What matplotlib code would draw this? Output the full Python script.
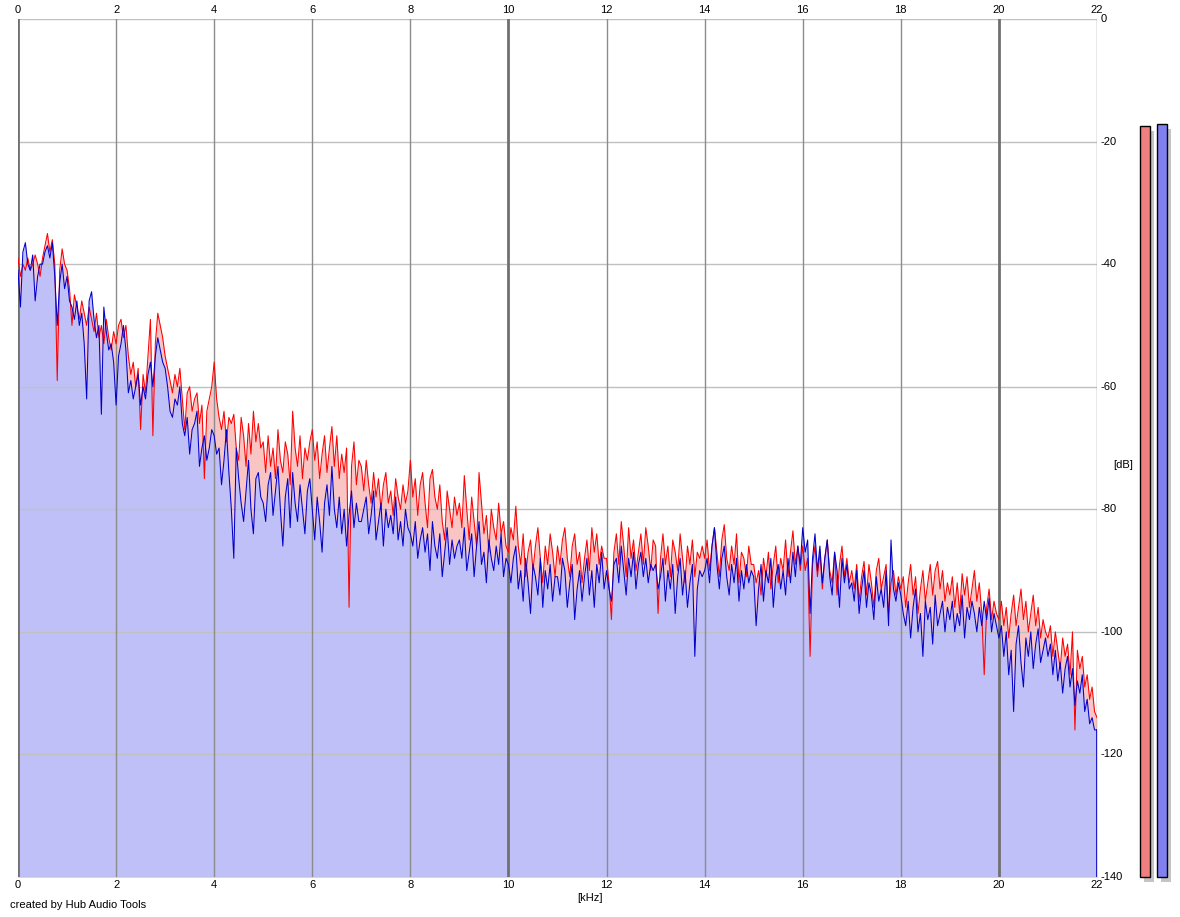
"""
Spectrum view, two channels (Hub Audio Tools style)
"""
import numpy as np
from matplotlib import pyplot as plt

# levels in dB, 0.05 kHz step from 0 to 22 kHz (one row per kHz)
red_db = [
    -39, -42, -40, -41, -39, -41, -40, -38.5, -40, -42, -39, -37, -35, -38, -36, -40, -59, -41, -37.5, -40,
    -41, -44, -50, -45, -47, -49, -46, -48, -50, -47, -49, -51, -48, -52, -50, -53, -49, -52, -54, -51,
    -53, -50, -49, -52, -50, -55, -58, -56, -60, -57, -67, -58, -61, -55, -49, -68, -53, -48, -50, -52,
    -55, -57, -59, -61, -58, -60, -57, -62, -67, -61, -60, -64, -62, -61, -66, -63, -75, -64, -62, -60,
    -56, -62, -65, -67, -64, -69, -65, -66, -64.5, -70, -72, -65, -68, -73, -66, -71, -64, -69, -66, -70,
    -69, -74, -68, -73, -70, -75, -67, -72, -74, -69, -71, -76, -64, -70, -73, -68, -75, -70, -72, -69,
    -67, -72, -69, -75, -71, -68, -74, -70, -66.5, -73, -68, -75, -71, -74, -70, -96, -73, -69, -76, -72,
    -73, -77, -72, -76, -79, -74, -78, -75, -80, -76, -74, -79, -77, -81, -75, -78, -80, -76, -79, -77,
    -72, -78, -75, -81, -76, -74, -79, -83, -75, -73.5, -78, -80, -76, -82, -85, -77, -80, -83, -78, -81,
    -79, -83, -74.5, -80, -85, -78, -82, -86, -74, -79, -84, -81, -87, -80, -83, -85, -79, -84, -82, -86,
    -87, -83, -85, -79.5, -86, -89, -84, -91, -87, -85, -90, -86, -83, -88, -92, -86, -89, -84, -87, -91,
    -86, -89, -85, -83, -88, -91, -86, -84, -89, -87, -92, -88, -85, -90, -83, -87, -84, -89, -86, -88,
    -88, -92, -98, -87, -84, -89, -82, -86, -91, -83, -88, -85, -90, -87, -84, -89, -83, -86, -90, -85,
    -86, -97, -88, -84, -89, -86, -91, -85, -87, -90, -84, -88, -92, -86, -89, -85, -91, -87, -88, -86,
    -88, -85, -90, -86, -83, -87, -91, -85, -82.5, -88, -90, -86, -89, -84, -92, -87, -88, -91, -86, -89,
    -89, -92, -90, -94, -88, -91, -87, -93, -89, -86, -92, -88, -90, -85, -91, -87, -83.5, -89, -86, -90,
    -86, -90, -88, -104, -89, -86, -91, -87, -93, -88, -85, -90, -92, -87, -94, -89, -86, -91, -88, -92,
    -90, -93, -89, -95, -91, -88.5, -94, -89, -92, -96, -90, -88, -93, -91, -89, -97, -92, -90, -94, -91,
    -93, -91, -96, -92, -89, -94, -91, -97, -93, -90, -95, -92, -89, -94, -90, -88.5, -93, -90, -95, -92,
    -94, -91, -96, -92, -97, -90.5, -94, -91, -96, -93, -90, -95, -92, -97, -107, -96, -93, -98, -95, -97,
    -98, -95, -99, -96, -101, -97, -94, -99, -96, -93, -98, -95, -100, -97, -94, -99, -96, -101, -98, -100,
    -101, -99, -104, -100, -103, -106, -101, -104, -102, -107, -100, -116, -103, -106, -104, -109, -107, -111, -109, -113,
    -114,
]
blue_db = [
    -41, -47, -38, -36.5, -40, -41, -38.5, -46, -42, -40, -40, -38, -37, -39, -36.5, -42, -50, -43, -40, -44,
    -42, -46, -47, -49, -46, -50, -48, -53, -62, -46, -44.5, -49, -52, -50, -64.5, -47, -51, -54, -53, -56,
    -63, -55, -53, -50, -54, -61, -59, -62, -60, -58, -63, -60, -62, -58, -56, -60, -55, -52, -54, -56,
    -57, -60, -64, -65, -62, -63, -60, -66, -68, -65, -71, -67, -66, -64, -73, -70, -68, -72, -70, -67,
    -68, -71, -70, -76, -72, -67, -74, -80, -88, -70, -75, -79, -82, -77, -72, -80, -84, -75, -74, -78,
    -79, -82, -76, -74, -81, -77, -73, -80, -86, -78, -75, -83, -74, -79, -82, -76, -80, -84, -77, -75,
    -80, -85, -78, -82, -87, -79, -76, -81, -73, -80, -83, -78, -84, -80, -86, -81, -77, -83, -79, -82,
    -82, -80, -78, -84, -81, -77, -85, -82, -79, -86, -80, -83, -81, -84, -78, -85, -82, -86, -80, -83,
    -84, -86, -82, -88, -85, -83, -87, -84, -90, -82, -86, -88, -84, -91, -87, -83, -89, -85, -88, -86,
    -85, -88, -83, -90, -87, -84, -91, -86, -82, -89, -87, -92, -85, -88, -90, -86, -89, -84, -91, -88,
    -89, -92, -88, -86, -93, -90, -95, -88, -92, -97, -89, -91, -94, -88, -96, -90, -93, -89, -95, -91,
    -91, -94, -88, -90, -96, -92, -89, -98, -93, -90, -95, -91, -88, -94, -90, -96, -89, -92, -87, -93,
    -90, -93, -95, -89, -88, -92, -86, -90, -94, -88, -91, -87, -93, -89, -87, -91, -88, -92, -89, -90,
    -89, -93, -91, -88, -95, -90, -93, -89, -97, -91, -88, -94, -90, -96, -92, -89, -104, -93, -90, -91,
    -90, -88, -92, -86, -83, -89, -93, -88, -86, -91, -94, -89, -92, -88, -95, -90, -93, -89, -92, -90,
    -91, -99, -93, -89, -95, -90, -92, -88, -96, -91, -89, -93, -90, -94, -88, -92, -87, -91, -86, -89,
    -83, -87, -85, -97, -88, -84, -90, -86, -92, -88, -85, -91, -94, -87, -90, -96, -88, -92, -89, -93,
    -92, -95, -90, -97, -93, -90, -96, -92, -94, -98, -91, -95, -93, -96, -90, -99, -85, -93, -95, -92,
    -94, -97, -99, -95, -101, -96, -93, -100, -97, -104, -95, -98, -96, -102, -94, -99, -97, -95, -100, -96,
    -98, -95, -100, -97, -99, -94, -101, -96, -98, -95, -97, -100, -96, -99, -95, -98, -94.5, -100, -97, -99,
    -101, -99, -104, -100, -107, -103, -113, -102, -99, -105, -109, -101, -104, -100, -106, -102, -99.5, -105, -103, -101,
    -104, -102, -107, -103, -108, -105, -110, -106, -104, -109, -106, -112, -108, -110, -107, -113, -111, -115, -114, -116,
    -116,
]
freq_khz = np.linspace(0, 22, len(red_db))

# overall channel levels (side meters)
meter_db = [-17.4, -17.1]
meter_colors = ['#f08080', '#8080f0']

x_ticks = list(range(0, 23, 2))
y_ticks = list(range(0, -141, -20))

FLOOR = -140


def main():
    plt.rcParams['font.family'] = ['Liberation Sans', 'DejaVu Sans']
    red = np.array(red_db)
    blue = np.array(blue_db)

    fig = plt.figure(figsize=(11.8, 9.17), dpi=100)
    W, H = 1180, 917
    ax = fig.add_axes([18 / W, 1 - 877 / H, (1097 - 18) / W, (877 - 19) / H])

    # fills: pink where red is over blue, lavender under blue
    ax.fill_between(freq_khz, FLOOR, red, color='#f8c4c4', lw=0, zorder=1)
    ax.fill_between(freq_khz, FLOOR, blue, color='#c0c0f8', lw=0, zorder=2)

    # grid
    for y in y_ticks:
        ax.axhline(y, color='#c0c0c0', lw=1, zorder=3)
    for x in x_ticks:
        if x in (0, 10, 20):
            ax.axvline(x, color='#707070', lw=2, zorder=3)
        else:
            ax.axvline(x, color='#8c8c8c', lw=1, zorder=3)

    ax.plot(freq_khz, red, color='#ff0000', lw=0.75, zorder=4)
    ax.plot(freq_khz, blue, color='#0000cc', lw=0.75, zorder=5)
    ax.plot([22, 22], [blue[-1], FLOOR], color='#0000cc', lw=1.2, zorder=5)

    ax.set_xlim(0, 22)
    ax.set_ylim(FLOOR, 0)
    for s in ax.spines.values():
        s.set_visible(False)
    ax.set_xticks([])
    ax.set_yticks([])

    # tick labels, top and bottom
    for x in x_ticks:
        ax.text(x, 1.005, str(x), transform=ax.get_xaxis_transform(), ha='center', va='bottom', fontsize=8)
        ax.text(x, -0.004, str(x), transform=ax.get_xaxis_transform(), ha='center', va='top', fontsize=8)
    for y in y_ticks:
        ax.text(1.003, y, str(y), transform=ax.get_yaxis_transform(), ha='left', va='center', fontsize=8)

    fig.text(590 / W, 1 - 898 / H, '[kHz]', ha='center', va='center', fontsize=8)
    fig.text(1123 / W, 1 - 465 / H, '[dB]', ha='center', va='center', fontsize=8)
    fig.text(10 / W, 1 - 905 / H, 'created by Hub Audio Tools', ha='left', va='center', fontsize=8)

    # level meters, with a grey drop shadow
    mx = fig.add_axes([1135 / W, 1 - 877 / H, 40 / W, (877 - 19) / H])
    mx.set_xlim(0, 40)
    mx.set_ylim(FLOOR, 0)
    mx.axis('off')
    for i, (lvl, c) in enumerate(zip(meter_db, meter_colors)):
        left = 5 + i * 17
        mx.bar(left + 4, lvl - FLOOR, width=10, bottom=FLOOR - 0.8, align='edge',
               color='#c4c4c4', lw=0, zorder=1, clip_on=False)
        mx.bar(left, lvl - FLOOR, width=10, bottom=FLOOR, align='edge',
               color=c, edgecolor='black', lw=1, zorder=2, clip_on=False)

    plt.savefig('out.png', dpi=100)


if __name__ == "__main__":
    main()
